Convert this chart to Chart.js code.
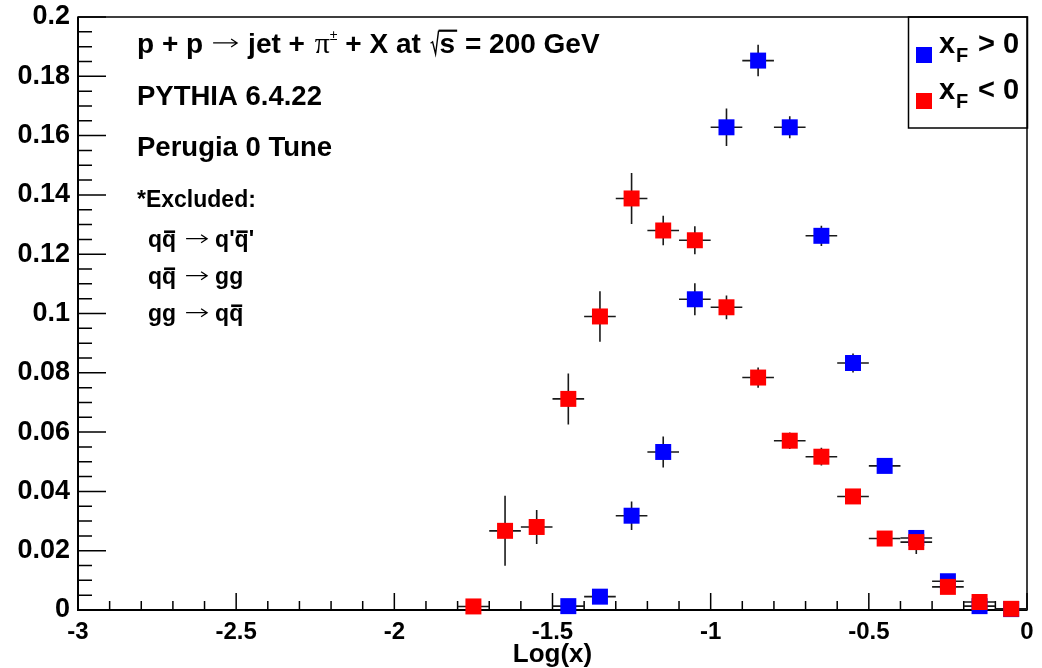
<!DOCTYPE html>
<html>
<head>
<meta charset="utf-8">
<script src="https://cdn.jsdelivr.net/npm/chart.js@4.4.1/dist/chart.umd.min.js"></script>
<style>
  html, body { margin: 0; padding: 0; background: #fff; }
  #wrap { width: 1042px; height: 668px; }
</style>
</head>
<body>
<div id="wrap"><canvas id="chart" width="1042" height="668"></canvas></div>
<script>
// ---- data ----
const binHalfWidth = 0.05;

const xfPosX   = [-1.45, -1.35, -1.25, -1.15, -1.05, -0.95, -0.85, -0.75, -0.65, -0.55, -0.45, -0.35, -0.25, -0.15, -0.05];
const xfPosY   = [0.0013, 0.0045, 0.0318, 0.0533, 0.1048, 0.1628, 0.1853, 0.1628, 0.1262, 0.0833, 0.0486, 0.0243, 0.0097, 0.0013, 0.0003];
const xfPosErr = [0.0010, 0.0015, 0.0048, 0.0052, 0.0054, 0.0063, 0.0053, 0.0037, 0.0034, 0.0032, 0.0022, 0.0022, 0.0014, 0.0008, 0.0003];

const xfNegX   = [-1.75, -1.65, -1.55, -1.45, -1.35, -1.25, -1.15, -1.05, -0.95, -0.85, -0.75, -0.65, -0.55, -0.45, -0.35, -0.25, -0.15, -0.05];
const xfNegY   = [0.0012, 0.0267, 0.0280, 0.0712, 0.0990, 0.1388, 0.1280, 0.1247, 0.1021, 0.0784, 0.0571, 0.0517, 0.0383, 0.0241, 0.0229, 0.0078, 0.0027, 0.0004];
const xfNegErr = [0.0010, 0.0118, 0.0057, 0.0086, 0.0085, 0.0086, 0.0050, 0.0047, 0.0040, 0.0034, 0.0028, 0.0030, 0.0022, 0.0020, 0.0040, 0.0018, 0.0010, 0.0004];

const xTickValues = [-3, -2.5, -2, -1.5, -1, -0.5, 0];
const xTickLabels = ['-3', '-2.5', '-2', '-1.5', '-1', '-0.5', '0'];
const yTickValues = [0, 0.02, 0.04, 0.06, 0.08, 0.1, 0.12, 0.14, 0.16, 0.18, 0.2];
const yTickLabels = ['0', '0.02', '0.04', '0.06', '0.08', '0.1', '0.12', '0.14', '0.16', '0.18', '0.2'];
const xMinorDiv = 5;
const yMinorDiv = 4;
const xTitle = 'Log(x)';

const FONT = '"Liberation Sans", Arial, Helvetica, sans-serif';
const BLUE = '#0000ff';
const RED = '#ff0000';

function toPoints(xs, ys) {
    return xs.map((x, i) => ({ x: x, y: ys[i] }));
}

// error bars, frame and inward ticks (ROOT look)
const rootFrame = {
    id: 'rootFrame',
    beforeDatasetsDraw(chart) {
        const { ctx, chartArea: a, scales } = chart;
        const xs = scales.x, ys = scales.y;
        ctx.save();
        ctx.strokeStyle = '#000';
        ctx.lineWidth = 1.5;
        ctx.strokeRect(a.left, a.top, a.right - a.left, a.bottom - a.top);
        ctx.lineWidth = 2;
        ctx.beginPath();
        ctx.moveTo(a.left, a.top);
        ctx.lineTo(a.left, a.bottom);
        ctx.lineTo(a.right, a.bottom);
        ctx.stroke();

        ctx.lineWidth = 1.5;
        ctx.beginPath();
        for (let i = 0; i < yTickValues.length; i++) {
            const py = ys.getPixelForValue(yTickValues[i]);
            ctx.moveTo(a.left, py);
            ctx.lineTo(a.left + 28, py);
            if (i < yTickValues.length - 1) {
                const step = (yTickValues[i + 1] - yTickValues[i]) / yMinorDiv;
                for (let k = 1; k < yMinorDiv; k++) {
                    const pm = ys.getPixelForValue(yTickValues[i] + k * step);
                    ctx.moveTo(a.left, pm);
                    ctx.lineTo(a.left + 14, pm);
                }
            }
        }
        for (let i = 0; i < xTickValues.length; i++) {
            const px = xs.getPixelForValue(xTickValues[i]);
            ctx.moveTo(px, a.bottom);
            ctx.lineTo(px, a.bottom - 17);
            if (i < xTickValues.length - 1) {
                const step = (xTickValues[i + 1] - xTickValues[i]) / xMinorDiv;
                for (let k = 1; k < xMinorDiv; k++) {
                    const pm = xs.getPixelForValue(xTickValues[i] + k * step);
                    ctx.moveTo(pm, a.bottom);
                    ctx.lineTo(pm, a.bottom - 9);
                }
            }
        }
        ctx.stroke();

        // error bars under the markers
        ctx.strokeStyle = '#1a1a1a';
        ctx.lineWidth = 1.6;
        chart.data.datasets.forEach(ds => {
            ctx.beginPath();
            ds.data.forEach((p, i) => {
                const cx = xs.getPixelForValue(p.x);
                const cy = ys.getPixelForValue(p.y);
                ctx.moveTo(xs.getPixelForValue(p.x - binHalfWidth), cy);
                ctx.lineTo(xs.getPixelForValue(p.x + binHalfWidth), cy);
                ctx.moveTo(cx, ys.getPixelForValue(p.y + ds.errors[i]));
                ctx.lineTo(cx, ys.getPixelForValue(p.y - ds.errors[i]));
            });
            ctx.stroke();
        });
        ctx.restore();
    }
};

// text pieces with arrows, bars, roots
function arrow(ctx, x, y, w) {
    ctx.save();
    ctx.lineWidth = 1.3;
    ctx.strokeStyle = '#000';
    ctx.beginPath();
    ctx.moveTo(x, y);
    ctx.lineTo(x + w, y);
    ctx.moveTo(x + w - 6, y - 4);
    ctx.lineTo(x + w, y);
    ctx.lineTo(x + w - 6, y + 4);
    ctx.stroke();
    ctx.restore();
}

function richLine(ctx, x, y, size, parts) {
    for (const p of parts) {
        if (p.gap) { x += p.gap; continue; }
        if (p.arrow) {
            arrow(ctx, x, y - size * 0.36, p.arrow);
            x += p.arrow;
            continue;
        }
        ctx.font = p.f;
        const w = ctx.measureText(p.t).width;
        if (p.sqrt) {
            const top = y - size * 0.8;
            ctx.save();
            ctx.strokeStyle = '#000';
            ctx.lineWidth = 1.4;
            ctx.beginPath();
            ctx.moveTo(x, y - size * 0.35);
            ctx.lineTo(x + 2, y - size * 0.4);
            ctx.lineTo(x + 5, y + 1);
            ctx.lineTo(x + 8, top);
            ctx.stroke();
            ctx.restore();
            ctx.fillRect(x + 8, top - 1, w + 3, 2.2);
            ctx.fillText(p.t, x + 9, y);
            x += w + 11;
            continue;
        }
        ctx.fillText(p.t, x, y + (p.dy || 0));
        if (p.bar) {
            ctx.fillRect(x + 2, y - size * 0.72, w - 3, 2.6);
        }
        x += w;
    }
    return x;
}

const annotations = {
    id: 'annotations',
    afterDraw(chart) {
        const ctx = chart.ctx;
        const B = s => 'bold ' + s + 'px ' + FONT;
        ctx.save();
        ctx.fillStyle = '#000';
        ctx.strokeStyle = '#000';
        ctx.textBaseline = 'alphabetic';
        ctx.textAlign = 'left';

        richLine(ctx, 137, 53, 28, [
            { t: 'p + p', f: B(28) }, { gap: 10 }, { arrow: 24 }, { gap: 11 },
            { t: 'jet + ', f: B(28) }, { gap: 2 },
            { t: 'π', f: '30px "Liberation Serif", serif' },
            { t: '±', f: '14px ' + FONT, dy: -13 },
            { t: ' + X at ', f: B(28) }, { gap: 2 },
            { t: 's', f: B(28), sqrt: true },
            { t: ' = 200 GeV', f: B(28) }
        ]);

        ctx.font = B(27.5);
        ctx.fillText('PYTHIA 6.4.22', 137, 105);
        ctx.fillText('Perugia 0 Tune', 137, 156);

        ctx.font = B(23);
        ctx.fillText('*Excluded:', 137, 207);

        const q = { t: 'q', f: B(23) };
        const qbar = { t: 'q', f: B(23), bar: true };
        richLine(ctx, 148, 247, 23, [q, qbar, { gap: 10 }, { arrow: 21 }, { gap: 8 },
            { t: "q'", f: B(23) }, qbar, { t: "'", f: B(23) }]);
        richLine(ctx, 148, 284, 23, [q, qbar, { gap: 10 }, { arrow: 21 }, { gap: 8 },
            { t: 'gg', f: B(23) }]);
        richLine(ctx, 148, 321, 23, [{ t: 'gg', f: B(23) }, { gap: 10 }, { arrow: 21 }, { gap: 8 },
            q, qbar]);

        // legend box
        ctx.lineWidth = 1.5;
        ctx.strokeRect(908.5, 17, 119, 111);
        chart.data.datasets.slice().reverse().forEach((ds, i) => {
            const cy = 55 + i * 46;
            ctx.fillStyle = ds.backgroundColor;
            ctx.fillRect(916, cy - 8, 16, 16);
            ctx.fillStyle = '#000';
            const base = 53 + i * 46;
            ctx.font = B(29);
            ctx.fillText(ds.legendMain, 939, base);
            ctx.font = B(20);
            ctx.fillText(ds.legendSub, 956, base + 9);
            ctx.font = B(29);
            ctx.fillText(ds.legendRest, 970, base);
        });
        ctx.restore();
    }
};

new Chart(document.getElementById('chart'), {
    type: 'scatter',
    data: {
        datasets: [
            {
                label: 'xF < 0',
                legendMain: 'x', legendSub: 'F', legendRest: ' < 0',
                data: toPoints(xfNegX, xfNegY),
                errors: xfNegErr,
                backgroundColor: RED,
                borderWidth: 0,
                pointStyle: 'rect',
                pointRadius: 11.3,
                pointHoverRadius: 11.3,
                clip: false
            },
            {
                label: 'xF > 0',
                legendMain: 'x', legendSub: 'F', legendRest: ' > 0',
                data: toPoints(xfPosX, xfPosY),
                errors: xfPosErr,
                backgroundColor: BLUE,
                borderWidth: 0,
                pointStyle: 'rect',
                pointRadius: 11.3,
                pointHoverRadius: 11.3,
                clip: false
            }
        ]
    },
    options: {
        responsive: false,
        animation: false,
        layout: { padding: { top: 17, right: 15, left: 0, bottom: 0 } },
        plugins: {
            legend: { display: false },
            tooltip: { enabled: false }
        },
        scales: {
            x: {
                type: 'linear',
                min: -3,
                max: 0,
                afterBuildTicks: s => { s.ticks = xTickValues.map(v => ({ value: v })); },
                afterFit: s => { s.height = 58; s.paddingLeft = 0; s.paddingRight = 0; },
                grid: { display: false, drawTicks: false, tickLength: 0 },
                border: { display: false },
                ticks: {
                    color: '#000',
                    font: { family: FONT, size: 24, weight: 'bold' },
                    padding: 8,
                    maxRotation: 0,
                    autoSkip: false,
                    callback: v => xTickLabels[xTickValues.indexOf(v)]
                },
                title: {
                    display: true,
                    text: xTitle,
                    color: '#000',
                    font: { family: FONT, size: 26, weight: 'bold', lineHeight: 1 },
                    padding: 0
                }
            },
            y: {
                type: 'linear',
                min: 0,
                max: 0.2,
                afterBuildTicks: s => { s.ticks = yTickValues.map(v => ({ value: v })); },
                afterFit: s => { s.width = 78; s.paddingTop = 0; s.paddingBottom = 0; },
                grid: { display: false, drawTicks: false, tickLength: 0 },
                border: { display: false },
                ticks: {
                    color: '#000',
                    font: { family: FONT, size: 27, weight: 'bold' },
                    padding: 8,
                    autoSkip: false,
                    callback: v => yTickLabels[yTickValues.indexOf(v)]
                }
            }
        }
    },
    plugins: [rootFrame, annotations]
});
</script>
</body>
</html>
